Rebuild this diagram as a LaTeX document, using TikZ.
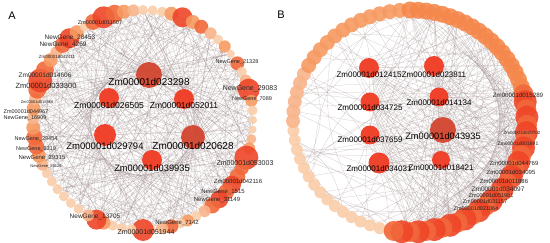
\documentclass[tikz,border=0pt]{standalone}
\usepackage{xcolor}
\usepackage{fontspec}
\setmainfont{Liberation Sans}
\usepackage{tikz}
\usetikzlibrary{positioning}
\usetikzlibrary{backgrounds}
\definecolor{cL}{HTML}{F9CDA8}
\definecolor{cP}{HTML}{F8B48A}
\definecolor{cM}{HTML}{F69A62}
\definecolor{cO}{HTML}{F5884C}
\definecolor{cD}{HTML}{F2683A}
\definecolor{cR}{HTML}{EE4628}
\definecolor{hubR}{HTML}{F03A22}
\definecolor{hubD}{HTML}{D2452F}
\definecolor{linkc}{HTML}{9A8686}
\tikzset{x=1pt, y=-1pt,
	ringnode/.style={
		circle, inner sep=0pt, outer sep=0pt,
		fill opacity=0.9},
	hub/.style={
		circle, inner sep=0pt, outer sep=0pt,
		fill opacity=0.95},
	link/.style={
		draw=linkc, line width=0.22pt,
		draw opacity=0.5},
	hubtxt/.style={inner sep=0pt, font=\fontsize{#1}{#1}\selectfont},
	gtxt/.style={inner sep=0pt, text=black!85, font=\fontsize{#1}{#1}\selectfont},
	panel/.style={inner sep=0pt, font=\fontsize{11}{11}\selectfont}
}
\begin{document}
\begin{tikzpicture}
	\useasboundingbox (0,0) rectangle (550,243);
	
	% panel A: ring
	\foreach \a/\d/\c [count=\n] in {0/8/cL, 5/8/cL, 10/10/cP, 15/12/cM, 20/24/cR,
		26/14/cD, 31/16/cD, 36/18/cR, 41/16/cD, 46/18/cR, 51/16/cD, 56/12/cP, 61/10/cL,
		66/12/cM, 70/10/cL, 75/14/cD, 80/12/cP, 86/10/cL, 90/22/cR, 96/10/cL, 101/10/cL,
		106/10/cL, 111/14/cM, 115/20/cR, 120/12/cP, 126/10/cL, 131/10/cL, 136/10/cL,
		141/10/cL, 146/10/cL, 151/10/cL, 156/12/cP, 161/14/cM, 166/16/cD, 171/16/cD,
		176/14/cM, 181/12/cP, 186/14/cM, 191/12/cP, 196/18/cD, 201/24/cR, 207/18/cD,
		213/14/cM, 218/12/cP, 223/16/cD, 228/20/cR, 233/14/cM, 238/10/cL, 243/16/cD,
		249/22/cR, 255/18/cD, 260/14/cM, 265/12/cP, 270/10/cL, 275/10/cL, 280/10/cL,
		285/14/cM, 291/20/cR, 297/14/cM, 302/14/cD, 308/12/cP, 313/10/cL, 318/12/cM,
		323/8/cL, 329/14/cD, 334/10/cL, 339/12/cP, 344/22/cR, 350/12/cM, 355/10/cL}
	\node[ringnode, fill=\c, minimum size=\d pt] (a\n) at ({143+110*cos(\a)},{120+110*sin(\a)}) {};
	
	% panel A: hubs
	\node[hub, fill=hubD, minimum size=26pt] (d023298) at (149,75) {};
	\node[hub, fill=hubR, minimum size=20pt] (d026505) at (109,98) {};
	\node[hub, fill=hubR, minimum size=20pt] (d052011) at (184,99) {};
	\node[hub, fill=hubR, minimum size=22pt] (d029794) at (105,135) {};
	\node[hub, fill=hubD, minimum size=24pt] (d020628) at (193,137) {};
	\node[hub, fill=hubR, minimum size=20pt] (d039935) at (152,160) {};
	
	% panel B: ring
	\foreach \a [count=\n] in {100,105,...,175,180,185,...,265,270,274,...,342,346,350,...,458} {
		\ifnum\a<180 \def\c{cL}\def\d{12}\else
		\ifnum\a<210 \def\c{cP}\def\d{14}\else
		\ifnum\a<270 \def\c{cM}\def\d{15}\else
		\ifnum\a<346 \def\c{cO}\def\d{17}\else
		\ifodd\n \def\c{cR}\def\d{23}\else\def\c{cD}\def\d{20}\fi
		\fi\fi\fi\fi
		\node[ringnode, fill=\c, minimum size=\d pt] (b\n) at ({410+117*cos(\a)},{121+111*sin(\a)}) {};
	}
	
	% panel B: hubs
	\node[hub, fill=hubR, minimum size=20pt] (d012415) at (369,68) {};
	\node[hub, fill=hubR, minimum size=20pt] (d023811) at (434,66) {};
	\node[hub, fill=hubR, minimum size=19pt] (d034725) at (370,102) {};
	\node[hub, fill=hubR, minimum size=19pt] (d014134) at (439,97) {};
	\node[hub, fill=hubR, minimum size=19pt] (d037659) at (370,135) {};
	\node[hub, fill=hubD, minimum size=26pt] (d043935) at (443,130) {};
	\node[hub, fill=hubR, minimum size=21pt] (d034031) at (379,163) {};
	\node[hub, fill=hubR, minimum size=18pt] (d018421) at (441,160) {};
	
	% edges
	\begin{pgfonlayer}{background}
		\foreach \h/\s in {d023298/1, d026505/2, d052011/3, d029794/2, d020628/1, d039935/3} {
			\foreach \k in {0,...,22} {
				\pgfmathtruncatemacro\n{\s+3*\k}
				\draw[link] (\h) -- (a\n);
			}
		}
		\draw[link] (d023298) -- (d026505) -- (d029794) -- (d039935) -- (d020628) -- (d052011) -- (d023298);
		\draw[link] (d023298) -- (d039935) (d026505) -- (d020628) (d052011) -- (d029794);
		\foreach \n in {1,...,70} {
			\pgfmathtruncatemacro\m{mod(\n*17,70)+1}
			\pgfmathtruncatemacro\p{mod(\n*29+11,70)+1}
			\pgfmathtruncatemacro\q{mod(\n+23,70)+1}
			\pgfmathtruncatemacro\r{mod(\n*41+5,70)+1}
			\draw[link] (a\n) -- (a\m) (a\n) -- (a\p) (a\n) -- (a\q) (a\n) -- (a\r);
		}
		
		\foreach \h/\s in {d012415/54, d023811/55, d034725/54, d014134/55, d037659/54, d043935/55, d034031/54, d018421/55} {
			\foreach \k in {0,...,13} {
				\pgfmathtruncatemacro\n{\s+2*\k}
				\draw[link] (\h) -- (b\n);
			}
			\foreach \k in {0,...,6} {
				\pgfmathtruncatemacro\n{35+3*\k}
				\draw[link] (\h) -- (b\n);
			}
		}
		\draw[link] (d012415) -- (d023811) -- (d014134) -- (d043935) -- (d018421) -- (d034031) -- (d037659) -- (d034725) -- (d012415);
		\foreach \n in {54,...,82} {
			\pgfmathtruncatemacro\m{mod(\n*7,82)+1}
			\pgfmathtruncatemacro\p{mod(\n*13+9,82)+1}
			\pgfmathtruncatemacro\s{mod(\n*19+2,82)+1}
			\pgfmathtruncatemacro\r{\n-20}
			\draw[link] (b\n) -- (b\m) (b\n) -- (b\p) (b\n) -- (b\r) (b\n) -- (b\s);
		}
		\foreach \n in {1,...,53} {
			\pgfmathtruncatemacro\q{mod(\n*11+4,82)+1}
			\draw[link] (b\n) to[bend left=25] (b\q);
		}
		\draw[link] (b20) -- (b54);
	\end{pgfonlayer}
	
	% hub labels
	\node[hubtxt=10] (l023298) [below=-9.6pt of d023298] {Zm00001d023298};
	\node[hubtxt=8.6] (l026505) [below=-6.1pt of d026505] {Zm00001d026505};
	\node[hubtxt=8.5] (l052011) [below=-7.1pt of d052011] {Zm00001d052011};
	\node[hubtxt=9.5] (l029794) [below=-3.5pt of d029794] {Zm00001d029794};
	\node[hubtxt=10] (l020628) [below=-6.6pt of d020628] {Zm00001d020628};
	\node[hubtxt=9.3] (l039935) [below=-5.4pt of d039935] {Zm00001d039935};
	
	\node[hubtxt=8] (l012415) [below=-6.9pt of d012415] {Zm00001d012415};
	\node[hubtxt=8] (l023811) [below=-4.9pt of d023811] {Zm00001d023811};
	\node[hubtxt=8] (l034725) [below=-7.4pt of d034725] {Zm00001d034725};
	\node[hubtxt=8] (l014134) [below=-7.4pt of d014134] {Zm00001d014134};
	\node[hubtxt=8] (l037659) [below=-8.4pt of d037659] {Zm00001d037659};
	\node[hubtxt=9.3] (l043935) [below=-10.4pt of d043935] {Zm00001d043935};
	\node[hubtxt=8] (l034031) [below=-8.4pt of d034031] {Zm00001d034031};
	\node[hubtxt=8] (l018421) [below=-4.9pt of d018421] {Zm00001d018421};
	
	% ring labels A
	\node[gtxt=5.5] (g011607) at (100,23) {Zm00001d011607};
	\node[gtxt=6.5] (g28453) at (70,38) {NewGene\_28453};
	\node[gtxt=6.5] (g4269) at (63,45) {NewGene\_4269};
	\node[gtxt=4.5] (g042411) at (57,57) {Zm00001d042411};
	\node[gtxt=6.5] (g014606) at (45,75) {Zm00001d014606};
	\node[gtxt=7.5] (g033300) at (46,86) {Zm00001d033300};
	\node[gtxt=4] (g018868) at (37,102) {Zm00001d018868};
	\node[gtxt=5.5] (g044967) at (26,112) {Zm00001d044967};
	\node[gtxt=5.5] (g16909) at (25,118) {NewGene\_16909};
	\node[gtxt=5.5] (g29454) at (36,139) {NewGene\_29454};
	\node[gtxt=5.5] (g8319) at (36,149) {NewGene\_8319};
	\node[gtxt=6] (g29315) at (42,158) {NewGene\_29315};
	\node[gtxt=4] (g29129) at (46,167) {NewGene\_29129};
	\node[gtxt=6.5] (g13705) at (95,217) {NewGene\_13705};
	\node[gtxt=7] (g051944) at (146,232) {Zm00001d051944};
	\node[gtxt=6] (g7142) at (177,223) {NewGene\_7142};
	\node[gtxt=6] (g31149) at (217,200) {NewGene\_31149};
	\node[gtxt=6] (g1515) at (223,192) {NewGene\_1515};
	\node[gtxt=6] (g042116) at (238,181) {Zm00001d042116};
	\node[gtxt=7] (g053003) at (245,163) {Zm00001d053003};
	\node[gtxt=5.5] (g21328) at (237,62) {NewGene\_21328};
	\node[gtxt=7] (g29083) at (250,89) {NewGene\_29083};
	\node[gtxt=5.5] (g7089) at (252,99) {NewGene\_7089};
	
	% ring labels B
	\node[gtxt=6.2] (g015289) at (518,95) {Zm00001d015289};
	\node[gtxt=4.5] (g020702) at (522,133) {Zm00001d020702};
	\node[gtxt=5] (g001691) at (518,144) {Zm00001d001691};
	\node[gtxt=6] (g044769) at (514,163) {Zm00001d044769};
	\node[gtxt=6] (g034095) at (511,172) {Zm00001d034095};
	\node[gtxt=6] (g011886) at (504,181) {Zm00001d011886};
	\node[gtxt=6.5] (g034097) at (498,189) {Zm00001d034097};
	\node[gtxt=5.5] (g051981) at (491,196) {Zm00001d051981};
	\node[gtxt=5.5] (g031157) at (485,202) {Zm00001d031157};
	\node[gtxt=5.5] (g021064) at (476,209) {Zm00001d021064};
	
	\node[panel] (pA) at (12,16) {A};
	\node[panel] (pB) at (281,15) {B};
\end{tikzpicture}
\end{document}
